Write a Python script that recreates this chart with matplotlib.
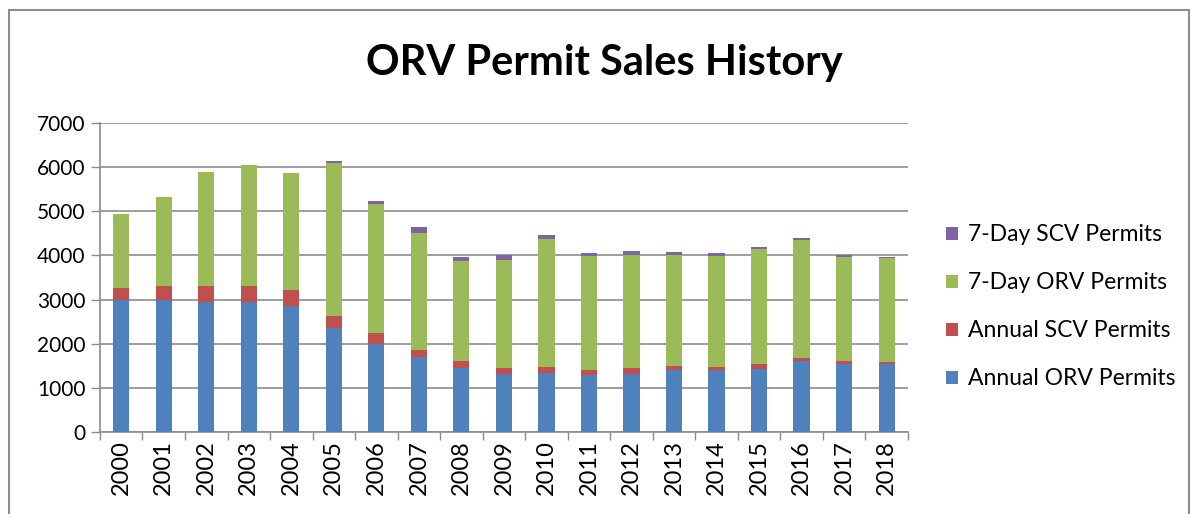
import numpy as np
import matplotlib
matplotlib.use('Agg')
import matplotlib.pyplot as plt
from matplotlib.patches import Rectangle

plt.rcParams['font.family'] = ['Lato', 'DejaVu Sans']

years = ['2000', '2001', '2002', '2003', '2004', '2005', '2006', '2007', '2008', '2009',
         '2010', '2011', '2012', '2013', '2014', '2015', '2016', '2017', '2018']
annual_orv = [2980, 2980, 2955, 2940, 2865, 2345, 1990, 1700, 1450, 1320,
              1330, 1280, 1320, 1400, 1400, 1430, 1600, 1550, 1540]
annual_scv = [290, 320, 345, 360, 345, 285, 245, 160, 150, 140,
              150, 120, 130, 85, 80, 105, 85, 55, 55]
day7_orv = [1660, 2015, 2595, 2738, 2655, 3460, 2940, 2645, 2270, 2445,
            2890, 2595, 2570, 2515, 2505, 2610, 2660, 2360, 2340]
day7_scv = [0, 0, 0, 0, 0, 60, 60, 130, 90, 105,
            85, 55, 85, 85, 60, 55, 50, 55, 30]

fig = plt.figure(figsize=(11.93, 5.14), dpi=100)
ax = fig.add_axes([0.0838, 0.1596, 0.6772, 0.6011])

x = np.arange(len(years))
w = 0.38
a = np.array(annual_orv)
b = np.array(annual_scv)
c = np.array(day7_orv)
ax.bar(x, a, w, color='#4F81BD', label='Annual ORV Permits', zorder=3)
ax.bar(x, b, w, bottom=a, color='#C0504D', label='Annual SCV Permits', zorder=3)
ax.bar(x, c, w, bottom=a + b, color='#9BBB59', label='7-Day ORV Permits', zorder=3)
ax.bar(x, day7_scv, w, bottom=a + b + c, color='#8064A2', label='7-Day SCV Permits', zorder=3)

ax.set_xlim(-0.5, len(years) - 0.5)
ax.set_ylim(0, 7000)
ax.set_yticks(range(0, 7001, 1000))
ax.yaxis.grid(True, color='#8c8c8c', linewidth=1.2, zorder=0)
ax.set_xticks(x)
ax.set_xticklabels(years, rotation=90, fontsize=17)
ax.tick_params(axis='x', length=0, pad=6)
ax.set_xticks(np.arange(-0.5, len(years), 1), minor=True)
ax.tick_params(axis='x', which='minor', length=6, color='#8c8c8c', width=1)
ax.tick_params(axis='y', labelsize=15, length=6.5, color='#8c8c8c', width=1, pad=4)
for s in ['top', 'right']:
    ax.spines[s].set_visible(False)
for s in ['left', 'bottom']:
    ax.spines[s].set_color('#8c8c8c')
    ax.spines[s].set_linewidth(1.2)

fig.text(0.507, 0.877, 'ORV Permit Sales History', ha='center', va='center',
         fontsize=30, fontweight='bold')

h, l = ax.get_legend_handles_labels()
fig.legend(h[::-1], l[::-1], loc='center left', bbox_to_anchor=(0.776, 0.403),
           frameon=False, fontsize=16.5, handlelength=0.5, handleheight=0.5,
           handletextpad=0.45, labelspacing=1.18)

fig.add_artist(Rectangle((0.0075, -0.05), 0.989, 1.0305, transform=fig.transFigure,
                         fill=False, edgecolor='#8c8c8c', linewidth=1.5))

fig.savefig('out.png', dpi=100)
